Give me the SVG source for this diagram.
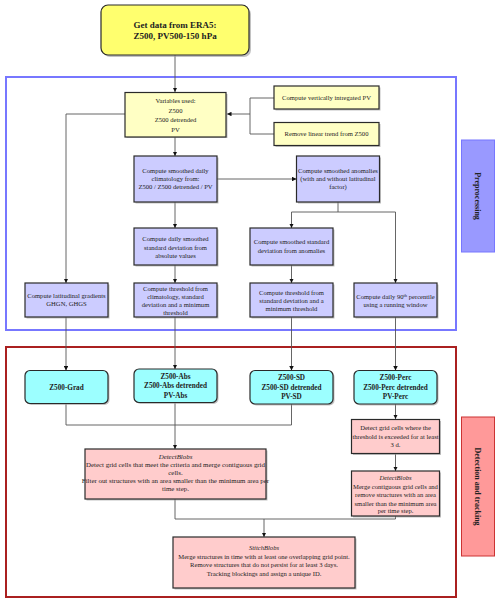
<svg xmlns="http://www.w3.org/2000/svg" width="500" height="605" viewBox="0 0 500 605">
<style>
text{font-family:"Liberation Serif","DejaVu Serif",serif;fill:#222;text-anchor:middle}
.t{font-size:6.6px}
.w{font-size:6.9px}
.b{font-weight:bold;font-size:7.2px}
.lb{font-weight:bold;font-size:8px}
.h{font-weight:bold;font-size:9px}
.i{font-style:italic}
.sh{fill:#999;opacity:.6}
.box{stroke:#2a2a2a;stroke-width:1.2}
.y1{fill:#ffff6e}
.y2{fill:#ffffc4}
.bl{fill:#ccccff}
.cy{fill:#9cffff}
.pk{fill:#ffcccc}
.c{fill:none;stroke:#555;stroke-width:0.9}
</style>
<defs>
<marker id="a" viewBox="0 0 6 6" refX="6" refY="3" markerWidth="5" markerHeight="5" orient="auto">
<path d="M0,0 L6,3 L0,6 z" fill="#111"/>
</marker>
</defs>

<rect x="6" y="77" width="450" height="253" fill="none" stroke="#7777ff" stroke-width="2"/>
<rect x="6" y="347" width="450" height="250" fill="none" stroke="#aa2020" stroke-width="2"/>

<g id="connectors">
<path class="c" d="M175,55 V92" marker-end="url(#a)"/>
<path class="c" d="M274,98 H250 V134 H274 M250,114 H227" marker-end="url(#a)"/>
<path class="c" d="M175,137 V156" marker-end="url(#a)"/>
<path class="c" d="M125,114 H66 V283" marker-end="url(#a)"/>
<path class="c" d="M217,179 H296.5" marker-end="url(#a)"/>
<path class="c" d="M175,202 V228" marker-end="url(#a)"/>
<path class="c" d="M338,202 V212 H291.5 V228" marker-end="url(#a)"/>
<path class="c" d="M338,212 H395.5 V283" marker-end="url(#a)"/>
<path class="c" d="M175,265 V283" marker-end="url(#a)"/>
<path class="c" d="M291.5,265 V283" marker-end="url(#a)"/>
<path class="c" d="M66,317 V370.5" marker-end="url(#a)"/>
<path class="c" d="M175,317 V369" marker-end="url(#a)"/>
<path class="c" d="M291.5,317 V370.5" marker-end="url(#a)"/>
<path class="c" d="M395.5,317 V370.5" marker-end="url(#a)"/>
<path class="c" d="M66,403 V425 H291.5 V404"/>
<path class="c" d="M175,403 V449" marker-end="url(#a)"/>
<path class="c" d="M395.5,404 V419" marker-end="url(#a)"/>
<path class="c" d="M395.5,453 V471" marker-end="url(#a)"/>
<path class="c" d="M175,499 V519 H264"/>
<path class="c" d="M395.5,516 V519 H264 V537" marker-end="url(#a)"/>
</g>

<g id="era5">
<rect class="sh" x="103" y="7" width="148" height="50" rx="7"/>
<rect class="box y1" x="101" y="5" width="148" height="50" rx="7"/>
<text class="h" x="175" y="28">Get data from ERA5:</text>
<text class="h" x="175" y="39">Z500, PV500-150 hPa</text>
</g>

<g id="variables">
<rect class="sh" x="126.5" y="94" width="101" height="44"/>
<rect class="box y2" x="125" y="92.5" width="101" height="44.5"/>
<text class="t" x="175.5" y="103">Variables used:</text>
<text class="t" x="175.5" y="112.5">Z500</text>
<text class="t" x="175.5" y="122">Z500 detrended</text>
<text class="t" x="175.5" y="131.5">PV</text>
</g>

<g id="intpv">
<rect class="sh" x="275.5" y="87.5" width="105" height="23"/>
<rect class="box y2" x="274" y="86" width="105" height="23"/>
<text class="t" x="326.5" y="99.5">Compute vertically intregated PV</text>
</g>

<g id="trend">
<rect class="sh" x="275.5" y="124" width="105" height="23"/>
<rect class="box y2" x="274" y="122.5" width="105" height="23"/>
<text class="t" x="326.5" y="136">Remove linear trend from Z500</text>
</g>

<g id="clim">
<rect class="sh" x="135.5" y="157.5" width="83" height="46"/>
<rect class="box bl" x="134" y="156" width="83" height="46"/>
<text class="t" x="175.5" y="173">Compute smoothed daily</text>
<text class="t" x="175.5" y="180.5">climatology from:</text>
<text class="t" x="175.5" y="188.5">Z500 / Z500 detrended / PV</text>
</g>

<g id="anom">
<rect class="sh" x="298" y="157.5" width="83" height="46"/>
<rect class="box bl" x="296.5" y="156" width="83" height="46"/>
<text class="t" x="338" y="173">Compute smoothed anomalies</text>
<text class="t" x="338" y="180.5">(with and without latitudinal</text>
<text class="t" x="338" y="188.5">factor)</text>
</g>

<g id="stdabs">
<rect class="sh" x="135.5" y="229.5" width="83" height="37"/>
<rect class="box bl" x="134" y="228" width="83" height="37"/>
<text class="t" x="175.5" y="241">Compute daily smoothed</text>
<text class="t" x="175.5" y="249.5">standard deviation from</text>
<text class="t" x="175.5" y="258">absolute values</text>
</g>

<g id="stdanom">
<rect class="sh" x="251.5" y="229.5" width="83" height="37"/>
<rect class="box bl" x="250" y="228" width="83" height="37"/>
<text class="t" x="291.5" y="244">Compute smoothed standard</text>
<text class="t" x="291.5" y="253">deviation from anomalies</text>
</g>

<g id="latgrad">
<rect class="sh" x="26.5" y="284.5" width="83" height="34"/>
<rect class="box bl" x="25" y="283" width="83" height="34"/>
<text class="t" x="66.5" y="298">Compute latitudinal gradients</text>
<text class="t" x="66.5" y="306">GHGN, GHGS</text>
</g>

<g id="thrabs">
<rect class="sh" x="135.5" y="284.5" width="83" height="34"/>
<rect class="box bl" x="134" y="283" width="83" height="34"/>
<text class="t" x="175.5" y="290.5">Compute threshold from</text>
<text class="t" x="175.5" y="298.5">climatology, standard</text>
<text class="t" x="175.5" y="307">deviation and a minimum</text>
<text class="t" x="175.5" y="315">threshold</text>
</g>

<g id="thrsd">
<rect class="sh" x="251.5" y="284.5" width="83" height="34"/>
<rect class="box bl" x="250" y="283" width="83" height="34"/>
<text class="t" x="291.5" y="294.5">Compute threshold from</text>
<text class="t" x="291.5" y="302.5">standard deviation and a</text>
<text class="t" x="291.5" y="310.5">minimum threshold</text>
</g>

<g id="perc">
<rect class="sh" x="355.5" y="284.5" width="83" height="34"/>
<rect class="box bl" x="354" y="283" width="83" height="34"/>
<text class="t" x="395.5" y="299">Compute daily 90<tspan font-size="4.5" dy="-2.5">th</tspan><tspan dy="2.5"> percentile</tspan></text>
<text class="t" x="395.5" y="307">using a running window</text>
</g>

<g id="preproc-label">
<rect x="461.5" y="140" width="33" height="112" fill="#9999ff" stroke="#7777ff" stroke-width="1"/>
<text class="lb" transform="translate(478,196) rotate(90)" dy="3">Preprocessing</text>
</g>

<g id="grad">
<rect class="sh" x="26.5" y="372" width="83" height="33" rx="5"/>
<rect class="box cy" x="25" y="370.5" width="83" height="33" rx="5"/>
<text class="b" x="66.5" y="389.5">Z500-Grad</text>
</g>

<g id="abs">
<rect class="sh" x="135.5" y="370.5" width="83" height="33.5" rx="5"/>
<rect class="box cy" x="134" y="369" width="83" height="33.5" rx="5"/>
<text class="b" x="175.5" y="378.5">Z500-Abs</text>
<text class="b" x="175.5" y="388">Z500-Abs detrended</text>
<text class="b" x="175.5" y="397.5">PV-Abs</text>
</g>

<g id="sd">
<rect class="sh" x="251.5" y="372" width="83" height="33.5" rx="5"/>
<rect class="box cy" x="250" y="370.5" width="83" height="33.5" rx="5"/>
<text class="b" x="291.5" y="380">Z500-SD</text>
<text class="b" x="291.5" y="389.5">Z500-SD detrended</text>
<text class="b" x="291.5" y="399">PV-SD</text>
</g>

<g id="percvar">
<rect class="sh" x="355.5" y="372" width="83" height="33.5" rx="5"/>
<rect class="box cy" x="354" y="370.5" width="83" height="33.5" rx="5"/>
<text class="b" x="395.5" y="380">Z500-Perc</text>
<text class="b" x="395.5" y="389.5">Z500-Perc detrended</text>
<text class="b" x="395.5" y="399">PV-Perc</text>
</g>

<g id="detect1">
<rect class="sh" x="86.5" y="450.5" width="181" height="50"/>
<rect class="box pk" x="85" y="449" width="181" height="50"/>
<text class="w i" x="175.5" y="459">DetectBlobs</text>
<text class="w" x="175.5" y="467">Detect grid cells that meet the criteria and merge contiguous grid</text>
<text class="w" x="175.5" y="475">cells.</text>
<text class="w" x="175.5" y="483">Filter out structures with an area smaller than the minimum area per</text>
<text class="w" x="175.5" y="491">time step.</text>
</g>

<g id="exceed">
<rect class="sh" x="353" y="421" width="88" height="34"/>
<rect class="box pk" x="351.5" y="419.5" width="88" height="34"/>
<text class="t" x="395.5" y="430">Detect grid cells where the</text>
<text class="t" x="395.5" y="438.5">threshold is exceeded for at least</text>
<text class="t" x="395.5" y="447">3 d.</text>
</g>

<g id="detect2">
<rect class="sh" x="353" y="472.5" width="88" height="45"/>
<rect class="box pk" x="351.5" y="471" width="88" height="45"/>
<text class="t i" x="395.5" y="480">DetectBlobs</text>
<text class="t" x="395.5" y="488.5">Merge contiguous grid cells and</text>
<text class="t" x="395.5" y="497">remove structures with an area</text>
<text class="t" x="395.5" y="505.5">smaller than the minimum area</text>
<text class="t" x="395.5" y="513">per time step.</text>
</g>

<g id="stitch">
<rect class="sh" x="174.5" y="538.5" width="182" height="51"/>
<rect class="box pk" x="173" y="537" width="182" height="51"/>
<text class="t i" x="264" y="550">StitchBlobs</text>
<text class="t" x="264" y="558.5">Merge structures in time with at least one overlapping grid point.</text>
<text class="t" x="264" y="567">Remove structures that do not persist for at least 3 days.</text>
<text class="t" x="264" y="575.5">Tracking blockings and assign a unique ID.</text>
</g>

<g id="detect-label">
<rect x="461.5" y="417" width="33" height="139" fill="#ff9999" stroke="#cc3333" stroke-width="1"/>
<text class="lb" transform="translate(478,486.5) rotate(90)" dy="3">Detection and tracking</text>
</g>
</svg>
